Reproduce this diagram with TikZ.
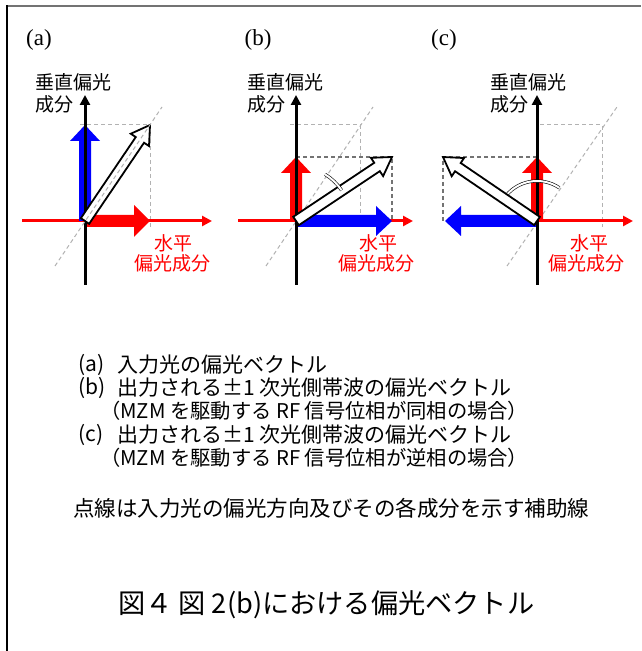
\documentclass[tikz,border=0pt]{standalone}
\usepackage{fontspec}
\setmainfont{Liberation Serif}
\newfontfamily\jp{Noto Sans CJK JP}
\usetikzlibrary{calc,arrows.meta}
% block arrow: #1 style, #2 from, #3 to, #4 shaft half width, #5 head half width, #6 head length
\newcommand{\blockarr}[6]{%
  \path ($(#3)!#6!(#2)$) coordinate (hb);
  \path[#1] ($(#2)!#4!90:(#3)$) -- ($(hb)!#4!-90:(#2)$) -- ($(hb)!#5!-90:(#2)$) -- (#3)
    -- ($(hb)!#5!90:(#2)$) -- ($(hb)!#4!90:(#2)$) -- ($(#2)!#4!-90:(#3)$) -- cycle;}
\tikzset{
  vaxis/.style={draw=black, line width=3pt, -{Triangle[length=10pt,width=10pt]}},
  haxis/.style={draw=red, line width=3pt, -{Triangle[length=10pt,width=10pt]}},
  lightdash/.style={draw=black!30, line width=1pt, dash pattern=on 4pt off 3pt},
  darkdash/.style={draw=black!55, line width=1.3pt, dash pattern=on 4pt off 3pt},
  hollow/.style={draw=black, fill=white, line width=1.8pt, line join=miter},
  bluefill/.style={fill=blue},
  redfill/.style={fill=red},
  anglemark/.style={draw=black, line width=0.6pt, double=white, double distance=2pt},
  lab/.style={font=\jp\fontsize{19}{22}\selectfont, inner sep=0pt},
  redlab/.style={lab, text=red},
  panel/.style={font=\fontsize{23}{26}\selectfont, inner sep=0pt},
  body/.style={font=\jp\fontsize{21}{24}\selectfont, inner sep=0pt, anchor=west},
  bodyparen/.style={font=\jp\fontsize{20.3}{24}\selectfont, inner sep=0pt, anchor=west},
  notetext/.style={font=\jp\fontsize{21.5}{24}\selectfont, inner sep=0pt, anchor=west},
  titletext/.style={font=\jp\fontsize{27.2}{31}\selectfont, inner sep=0pt}
}
\begin{document}
\begin{tikzpicture}[x=1pt,y=1pt]
\useasboundingbox (0,0) rectangle (641,651);
% frame
\draw[black!55, line width=2pt] (6,644.5) -- (641,644.5);
\draw[black, line width=2pt] (6.5,645.5) -- (6.5,0);

% ================= panel (a)
\coordinate (Oa) at (85,430);
\coordinate (Ta) at (150,526);
\coordinate (Va) at (85,526);
\coordinate (Ha) at (150,430);
\draw[lightdash] (80,526) -- (Ta) -- (150,424);
\draw[haxis] (22,430) -- (212,430);
\blockarr{redfill}{Oa}{Ha}{6pt}{16pt}{16pt}
\blockarr{bluefill}{Oa}{Va}{6pt}{15pt}{16pt}
\draw[vaxis] (85,366) -- (85,556);
\blockarr{hollow}{Oa}{Ta}{5pt}{11pt}{18pt}
\draw[lightdash] (55,385) -- (162,544);
\node[panel] (pa) at (39,611) {(a)};
\node[lab, anchor=west] (va1) at (35,569) {垂直偏光};
\node[lab, anchor=west] (va2) at (35,547) {成分};
\node[redlab] (ha1) at (173,408) {水平};
\node[redlab] (ha2) at (172,388) {偏光成分};

% ================= panel (b)
\coordinate (Ob) at (296,430);
\coordinate (Tb) at (392,494);
\coordinate (Vb) at (296,494);
\coordinate (Hb) at (392,430);
\draw[lightdash] (290,526) -- (360,526) -- (360,424);
\draw[lightdash] (266,385) -- (373,544);
\draw[darkdash] (Vb) -- (Tb) -- (Hb);
\draw[haxis] (238,430) -- (413,430);
\blockarr{bluefill}{Ob}{Hb}{6pt}{15pt}{16pt}
\blockarr{redfill}{Ob}{Vb}{6pt}{15pt}{16pt}
\draw[vaxis] (296,366) -- (296,556);
\blockarr{hollow}{Ob}{Tb}{5pt}{11pt}{18pt}
\draw[anglemark] ($(Ob)+(34:55)$) arc[start angle=34, end angle=58, radius=55];
\node[panel] (pb) at (258,611) {(b)};
\node[lab, anchor=west] (vb1) at (247,569) {垂直偏光};
\node[lab, anchor=west] (vb2) at (247,547) {成分};
\node[redlab] (hb1) at (378,408) {水平};
\node[redlab] (hb2) at (376,388) {偏光成分};

% ================= panel (c)
\coordinate (Oc) at (537,430);
\coordinate (Tc) at (443,494);
\coordinate (Vc) at (537,494);
\coordinate (Hc) at (445,430);
\draw[lightdash] (540,526) -- (602,526) -- (602,424);
\draw[lightdash] (507,385) -- (617,544);
\draw[darkdash] (Vc) -- (Tc) -- (443,430);
\draw[haxis] (474,430) -- (633,430);
\blockarr{bluefill}{Oc}{Hc}{6pt}{15pt}{16pt}
\blockarr{redfill}{Oc}{Vc}{6pt}{15pt}{16pt}
\draw[vaxis] (537,366) -- (537,556);
\draw[anglemark] ($(Oc)+(56:40)$) arc[start angle=56, end angle=146, radius=40];
\blockarr{hollow}{Oc}{Tc}{5pt}{11pt}{18pt}
\node[panel] (pc) at (444,611) {(c)};
\node[lab, anchor=west] (vc1) at (490,569) {垂直偏光};
\node[lab, anchor=west] (vc2) at (490,547) {成分};
\node[redlab] (hc1) at (589,408) {水平};
\node[redlab] (hc2) at (586,388) {偏光成分};

% ================= caption text
\node[body] (la) at (78,286) {(a)};
\node[body] (ta) at (117,286) {入力光の偏光ベクトル};
\node[body] (lb) at (78,263) {(b)};
\node[body] (tb) at (117,263) {出力される±1 次光側帯波の偏光ベクトル};
\node[bodyparen] (tb2) at (100,240) {（MZM を駆動する RF 信号位相が同相の場合）};
\node[body] (lc) at (78,216) {(c)};
\node[body] (tc) at (117,216) {出力される±1 次光側帯波の偏光ベクトル};
\node[bodyparen] (tc2) at (100,193) {（MZM を駆動する RF 信号位相が逆相の場合）};
\node[notetext] (note) at (73,143) {点線は入力光の偏光方向及びその各成分を示す補助線};
\node[titletext, anchor=west] (title) at (118,46) {図４ 図 2(b)における偏光ベクトル};
\end{tikzpicture}
\end{document}
